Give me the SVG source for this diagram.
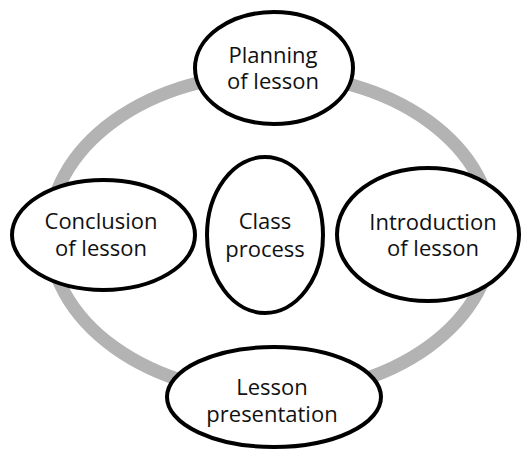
<svg xmlns="http://www.w3.org/2000/svg" width="526" height="454" viewBox="0 0 526 454">
<style>
.node{fill:#fff;stroke:#000;stroke-width:4}
.lbl{font-family:"Open Sans","Noto Sans",sans-serif;font-size:22px;fill:#111;text-anchor:middle}
.ring{fill:none;stroke:#b3b3b3;stroke-width:13}
</style>
<rect width="526" height="454" fill="#fff"/>
<g id="connectors">
<ellipse class="ring" cx="271" cy="234" rx="222" ry="160"/>
</g>
<g id="planning">
<ellipse class="node" cx="274" cy="68" rx="79" ry="56"/>
<text class="lbl" x="273" y="63">Planning</text>
<text class="lbl" x="273" y="89">of lesson</text>
</g>
<g id="conclusion">
<ellipse class="node" cx="103.5" cy="235" rx="91.5" ry="55"/>
<text class="lbl" x="101" y="229">Conclusion</text>
<text class="lbl" x="101" y="256">of lesson</text>
</g>
<g id="introduction">
<ellipse class="node" cx="428" cy="234.5" rx="91" ry="66.5"/>
<text class="lbl" x="433" y="230">Introduction</text>
<text class="lbl" x="433" y="256">of lesson</text>
</g>
<g id="presentation">
<ellipse class="node" cx="274" cy="397" rx="107" ry="50"/>
<text class="lbl" x="272" y="395">Lesson</text>
<text class="lbl" x="272" y="422">presentation</text>
</g>
<g id="class-process">
<ellipse class="node" cx="265" cy="235" rx="58" ry="78"/>
<text class="lbl" x="265" y="229">Class</text>
<text class="lbl" x="265" y="257">process</text>
</g>
</svg>
